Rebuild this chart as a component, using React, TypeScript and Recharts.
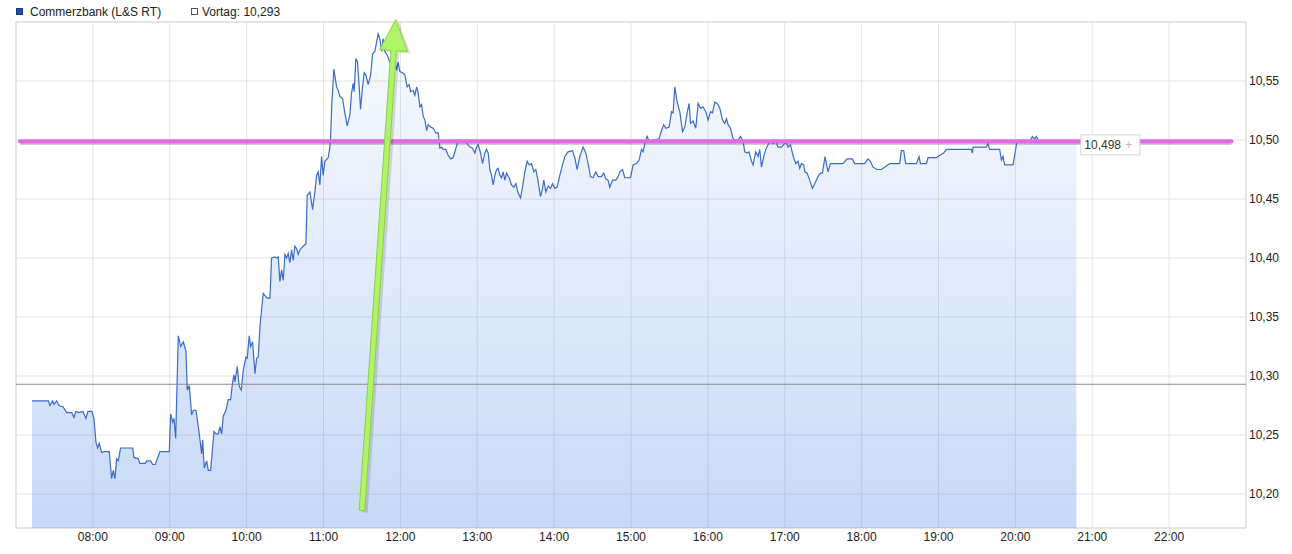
import React from "react";
import {
  ComposedChart,
  Area,
  XAxis,
  YAxis,
  CartesianGrid,
  ReferenceLine,
  ReferenceArea,
  ReferenceDot,
} from "recharts";

// intraday ticks, time as decimal hours
const times = [
  7.208, 7.42, 7.442, 7.477, 7.494, 7.529, 7.559, 7.611, 7.659, 7.724,
  7.754, 7.78, 7.815, 7.871, 7.91, 7.936, 7.988, 8.014, 8.04, 8.062,
  8.083, 8.114, 8.144, 8.213, 8.244, 8.265, 8.287, 8.309, 8.33, 8.361,
  8.518, 8.534, 8.59, 8.612, 8.681, 8.7, 8.752, 8.778, 8.811, 8.85,
  8.873, 8.994, 9.012, 9.038, 9.055, 9.077, 9.111, 9.142, 9.176, 9.211,
  9.228, 9.254, 9.285, 9.306, 9.341, 9.384, 9.415, 9.428, 9.449, 9.48,
  9.501, 9.532, 9.575, 9.601, 9.631, 9.653, 9.675, 9.696, 9.731, 9.761,
  9.792, 9.818, 9.835, 9.848, 9.878, 9.904, 9.93, 9.956, 9.991, 10.008,
  10.034, 10.052, 10.078, 10.108, 10.13, 10.151, 10.173, 10.216, 10.268, 10.303,
  10.325, 10.368, 10.39, 10.411, 10.433, 10.455, 10.476, 10.498, 10.52, 10.541,
  10.563, 10.585, 10.606, 10.628, 10.65, 10.671, 10.693, 10.736, 10.771, 10.788,
  10.823, 10.858, 10.888, 10.91, 10.931, 10.953, 10.975, 10.996, 11.018, 11.061,
  11.083, 11.092, 11.109, 11.135, 11.17, 11.191, 11.213, 11.248, 11.278, 11.308,
  11.343, 11.365, 11.386, 11.399, 11.421, 11.443, 11.464, 11.482, 11.508, 11.529,
  11.551, 11.581, 11.613, 11.639, 11.668, 11.691, 11.711, 11.733, 11.756, 11.776,
  11.798, 11.828, 11.863, 11.929, 11.951, 11.971, 11.994, 12.029, 12.059, 12.088,
  12.114, 12.133, 12.167, 12.189, 12.211, 12.231, 12.254, 12.276, 12.297, 12.319,
  12.341, 12.362, 12.393, 12.427, 12.462, 12.492, 12.514, 12.536, 12.557, 12.592,
  12.622, 12.653, 12.687, 12.722, 12.752, 12.796, 12.839, 12.869, 12.904, 12.939,
  12.969, 12.991, 13.012, 13.043, 13.069, 13.099, 13.121, 13.142, 13.164, 13.186,
  13.207, 13.229, 13.251, 13.272, 13.294, 13.316, 13.337, 13.359, 13.381, 13.415,
  13.446, 13.476, 13.502, 13.532, 13.563, 13.589, 13.619, 13.649, 13.675, 13.706,
  13.736, 13.762, 13.792, 13.823, 13.849, 13.866, 13.892, 13.922, 13.953, 13.979,
  14.009, 14.039, 14.074, 14.109, 14.139, 14.182, 14.239, 14.269, 14.299, 14.334,
  14.377, 14.412, 14.442, 14.473, 14.507, 14.542, 14.572, 14.616, 14.646, 14.672,
  14.702, 14.724, 14.76, 14.802, 14.832, 14.854, 14.89, 14.919, 14.962, 14.994,
  15.027, 15.072, 15.105, 15.137, 15.158, 15.18, 15.21, 15.236, 15.288, 15.365,
  15.397, 15.426, 15.453, 15.496, 15.527, 15.548, 15.57, 15.6, 15.635, 15.67,
  15.7, 15.73, 15.756, 15.774, 15.808, 15.843, 15.873, 15.904, 15.938, 15.973,
  16.003, 16.034, 16.06, 16.09, 16.12, 16.155, 16.19, 16.22, 16.242, 16.263,
  16.294, 16.32, 16.337, 16.393, 16.424, 16.458, 16.48, 16.51, 16.536, 16.567,
  16.588, 16.623, 16.653, 16.675, 16.697, 16.727, 16.753, 16.783, 16.805, 16.848,
  16.883, 16.913, 16.957, 16.987, 17.013, 17.043, 17.074, 17.1, 17.117, 17.143,
  17.173, 17.195, 17.217, 17.247, 17.26, 17.29, 17.325, 17.36, 17.39, 17.433,
  17.464, 17.49, 17.507, 17.524, 17.542, 17.563, 17.594, 17.758, 17.81, 17.88,
  17.91, 18.04, 18.083, 18.114, 18.148, 18.2, 18.257, 18.3, 18.343, 18.365,
  18.495, 18.517, 18.547, 18.573, 18.713, 18.747, 18.765, 18.843, 18.864, 18.973,
  19.016, 19.068, 19.103, 19.428, 19.441, 19.449, 19.623, 19.643, 19.666, 19.796,
  19.818, 19.839, 19.861, 19.969, 20.004, 20.021, 20.186, 20.221, 20.251, 20.273,
  20.307, 20.793,
];

const prices = [
  10.279, 10.279, 10.275, 10.279, 10.276, 10.279, 10.275, 10.274, 10.269, 10.269,
  10.265, 10.27, 10.269, 10.27, 10.264, 10.27, 10.27, 10.264, 10.244, 10.239,
  10.243, 10.235, 10.236, 10.236, 10.213, 10.22, 10.213, 10.23, 10.228, 10.239,
  10.239, 10.231, 10.23, 10.226, 10.226, 10.228, 10.228, 10.225, 10.225, 10.232,
  10.236, 10.236, 10.268, 10.261, 10.264, 10.247, 10.334, 10.325, 10.329, 10.321,
  10.288, 10.292, 10.267, 10.271, 10.271, 10.251, 10.234, 10.246, 10.222, 10.228,
  10.22, 10.22, 10.253, 10.251, 10.251, 10.257, 10.251, 10.266, 10.271, 10.28,
  10.28, 10.295, 10.301, 10.295, 10.308, 10.291, 10.288, 10.305, 10.316, 10.315,
  10.334, 10.325, 10.329, 10.302, 10.315, 10.316, 10.342, 10.37, 10.366, 10.366,
  10.4, 10.401, 10.4, 10.401, 10.38, 10.39, 10.381, 10.403, 10.4, 10.404,
  10.396, 10.407, 10.398, 10.41, 10.408, 10.403, 10.407, 10.41, 10.412, 10.453,
  10.456, 10.441, 10.456, 10.47, 10.473, 10.462, 10.486, 10.47, 10.482, 10.485,
  10.494, 10.501, 10.532, 10.56, 10.545, 10.542, 10.537, 10.535, 10.523, 10.512,
  10.521, 10.54, 10.548, 10.541, 10.569, 10.566, 10.545, 10.526, 10.545, 10.557,
  10.555, 10.547, 10.555, 10.573, 10.575, 10.583, 10.59, 10.586, 10.575, 10.586,
  10.575, 10.572, 10.566, 10.568, 10.559, 10.566, 10.558, 10.557, 10.555, 10.545,
  10.547, 10.541, 10.542, 10.538, 10.545, 10.54, 10.528, 10.53, 10.52, 10.517,
  10.508, 10.513, 10.511, 10.51, 10.506, 10.506, 10.493, 10.494, 10.492, 10.492,
  10.487, 10.484, 10.485, 10.493, 10.499, 10.499, 10.499, 10.497, 10.494, 10.493,
  10.489, 10.494, 10.496, 10.489, 10.48, 10.489, 10.492, 10.489, 10.475, 10.47,
  10.462, 10.47, 10.475, 10.476, 10.47, 10.468, 10.473, 10.466, 10.472, 10.468,
  10.462, 10.46, 10.463, 10.455, 10.451, 10.46, 10.473, 10.482, 10.479, 10.48,
  10.473, 10.475, 10.465, 10.452, 10.459, 10.466, 10.456, 10.461, 10.459, 10.463,
  10.459, 10.46, 10.47, 10.479, 10.486, 10.49, 10.491, 10.485, 10.475, 10.486,
  10.494, 10.489, 10.48, 10.469, 10.468, 10.473, 10.469, 10.469, 10.472, 10.467,
  10.466, 10.46, 10.466, 10.466, 10.469, 10.473, 10.475, 10.468, 10.468, 10.468,
  10.479, 10.48, 10.483, 10.492, 10.49, 10.497, 10.503, 10.499, 10.5, 10.501,
  10.508, 10.513, 10.51, 10.511, 10.524, 10.523, 10.545, 10.532, 10.524, 10.507,
  10.511, 10.523, 10.531, 10.514, 10.516, 10.51, 10.531, 10.527, 10.528, 10.524,
  10.517, 10.524, 10.523, 10.532, 10.531, 10.527, 10.517, 10.514, 10.518, 10.513,
  10.51, 10.503, 10.5, 10.5, 10.503, 10.499, 10.49, 10.489, 10.49, 10.482,
  10.479, 10.49, 10.486, 10.492, 10.477, 10.486, 10.492, 10.496, 10.499, 10.497,
  10.499, 10.494, 10.494, 10.496, 10.499, 10.494, 10.496, 10.489, 10.485, 10.48,
  10.482, 10.476, 10.48, 10.479, 10.473, 10.472, 10.466, 10.459, 10.463, 10.469,
  10.472, 10.472, 10.479, 10.486, 10.48, 10.473, 10.48, 10.48, 10.484, 10.484,
  10.48, 10.48, 10.484, 10.482, 10.477, 10.475, 10.475, 10.477, 10.479, 10.48,
  10.48, 10.491, 10.491, 10.48, 10.48, 10.486, 10.48, 10.48, 10.485, 10.485,
  10.487, 10.489, 10.492, 10.492, 10.489, 10.494, 10.494, 10.497, 10.492, 10.492,
  10.483, 10.486, 10.479, 10.479, 10.492, 10.499, 10.499, 10.503, 10.501, 10.503,
  10.499, 10.498,
];

const hourTicks = [8, 9, 10, 11, 12, 13, 14, 15, 16, 17, 18, 19, 20, 21, 22];
const priceTicks = [10.2, 10.25, 10.3, 10.35, 10.4, 10.45, 10.5, 10.55];
const timeDomain = [7, 23];
const priceDomain = [10.1712, 10.6];

const seriesName = "Commerzbank (L&S RT)";
const previousClose = 10.293;
const lastPrice = 10.498;

// hand-drawn annotations (data coordinates)
const markLevel = 10.499;
const markSpan = [7.05, 22.81];
const arrowStart = { x: 11.5, y: 10.186 };
const arrowEnd = { x: 11.94, y: 10.602 };

const data = times.map((t, i) => ({ t, price: prices[i] }));

const font = '"Liberation Sans", Arial, sans-serif';
const deNum = (v: number, d: number) => v.toFixed(d).replace(".", ",");
const hourLabel = (h: number) => `${String(h).padStart(2, "0")}:00`;

const ArrowShape = (p: any) => {
  const { x1, y1, x2, y2 } = p;
  const dx = x2 - x1;
  const dy = y2 - y1;
  const len = Math.hypot(dx, dy);
  const ux = dx / len;
  const uy = dy / len;
  const nx = -uy;
  const ny = ux;
  const head = 31;
  const hw = 14;
  const sw = 2.8;
  const bx = x2 - ux * head;
  const by = y2 - uy * head;
  const pts = [
    [x1 + nx * sw, y1 + ny * sw],
    [bx + nx * sw, by + ny * sw],
    [bx + nx * hw, by + ny * hw],
    [x2, y2],
    [bx - nx * hw, by - ny * hw],
    [bx - nx * sw, by - ny * sw],
    [x1 - nx * sw, y1 - ny * sw],
  ]
    .map((q) => q.join(","))
    .join(" ");
  return (
    <g>
      <polygon points={pts} transform="translate(3,2)" fill="rgba(0,0,0,0.13)" />
      <polygon points={pts} fill="#b2f26a" stroke="#8ad243" strokeWidth={1} />
    </g>
  );
};

const MarkShape = (p: any) => (
  <g>
    <line x1={p.x1} y1={p.y1 + 2} x2={p.x2} y2={p.y2 + 2} stroke="rgba(90,60,90,0.35)" strokeWidth={3} />
    <line x1={p.x1} y1={p.y1} x2={p.x2} y2={p.y2} stroke="#e467e8" strokeWidth={4} strokeLinecap="round" />
  </g>
);

const LastBox = (p: any) => (
  <g>
    <rect x={p.cx + 4.5} y={p.cy - 7.5} width={59} height={20} fill="#fff" stroke="#d6d6d6" />
    <text x={p.cx + 8} y={p.cy + 7} fontSize={12} fontFamily={font} fill="#333">
      {deNum(lastPrice, 3)}
    </text>
    <text x={p.cx + 49} y={p.cy + 7} fontSize={12} fontFamily={font} fill="#bbb">
      +
    </text>
  </g>
);

const App: React.FC = () => {
  return (
    <div style={{ position: "absolute", left: 0, top: 0, width: 1292, height: 554, fontFamily: font }}>
      <ComposedChart width={1292} height={554} data={data} margin={{ top: 22, right: 0, bottom: 0, left: 16 }}>
        <defs>
          <linearGradient id="priceFill" x1="0" y1="0" x2="0" y2="1">
            <stop offset="0%" stopColor="rgb(70,130,230)" stopOpacity={0.06} />
            <stop offset="100%" stopColor="rgb(70,130,230)" stopOpacity={0.5} />
          </linearGradient>
        </defs>
        <CartesianGrid stroke="#e3e3e3" />
        <ReferenceArea
          x1={timeDomain[0]}
          x2={timeDomain[1]}
          y1={priceDomain[0]}
          y2={priceDomain[1]}
          fill="none"
          stroke="#d9d9d9"
        />
        <XAxis
          dataKey="t"
          type="number"
          domain={timeDomain}
          ticks={hourTicks}
          tickFormatter={hourLabel}
          axisLine={false}
          tickLine={false}
          tickSize={0}
          tickMargin={4}
          height={26}
          tick={{ fontSize: 12, fill: "#222", fontFamily: font }}
        />
        <YAxis
          orientation="right"
          type="number"
          domain={priceDomain}
          ticks={priceTicks}
          tickFormatter={(v: number) => deNum(v, 2)}
          axisLine={false}
          tickLine={false}
          tickSize={0}
          tickMargin={3}
          width={46}
          allowDataOverflow
          tick={{ fontSize: 12, fill: "#222", fontFamily: font, textAnchor: "start" }}
        />
        <Area
          type="linear"
          dataKey="price"
          name={seriesName}
          stroke="#3a6cc8"
          strokeWidth={1.2}
          fill="url(#priceFill)"
          dot={false}
          activeDot={false}
          isAnimationActive={false}
        />
        <ReferenceLine y={previousClose} stroke="#8c8c8c" strokeWidth={1} />
        <ReferenceDot x={times[times.length - 1]} y={lastPrice} r={0} shape={LastBox} />
        <ReferenceLine
          segment={[
            { x: markSpan[0], y: markLevel },
            { x: markSpan[1], y: markLevel },
          ]}
          ifOverflow="visible"
          shape={MarkShape}
        />
        <ReferenceLine segment={[arrowStart, arrowEnd]} ifOverflow="visible" shape={ArrowShape} />
      </ComposedChart>

      <div style={{ position: "absolute", left: 16, top: 8, width: 5, height: 5, background: "#1f4fa8", border: "1px solid #163a7c" }} />
      <div style={{ position: "absolute", left: 30, top: 5, fontSize: 12, lineHeight: "14px", color: "#222", whiteSpace: "nowrap" }}>
        {seriesName}
      </div>
      <div style={{ position: "absolute", left: 191, top: 8, width: 5, height: 5, background: "#fff", border: "1px solid #555" }} />
      <div style={{ position: "absolute", left: 202, top: 5, fontSize: 12, lineHeight: "14px", color: "#222", whiteSpace: "nowrap" }}>
        Vortag: {deNum(previousClose, 3)}
      </div>
    </div>
  );
};

export default App;
